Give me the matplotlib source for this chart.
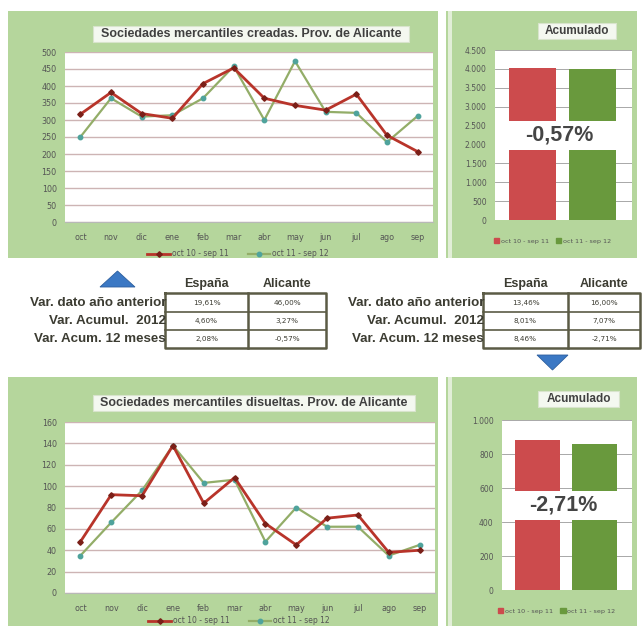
import numpy as np
import matplotlib
matplotlib.use("Agg")
import matplotlib.pyplot as plt
from matplotlib.patches import Rectangle, Polygon
from matplotlib.lines import Line2D
from matplotlib.ticker import FuncFormatter

W, H = 642, 626

months = ["oct", "nov", "dic", "ene", "feb", "mar", "abr", "may", "jun", "jul", "ago", "sep"]
serie_a = "oct 10 - sep 11"
serie_b = "oct 11 - sep 12"

creadas_a = [317, 381, 319, 305, 407, 453, 364, 343, 329, 376, 255, 207]
creadas_b = [250, 364, 310, 314, 364, 458, 300, 473, 324, 321, 235, 312]
disueltas_a = [48, 92, 91, 138, 84, 108, 65, 45, 70, 73, 38, 40]
disueltas_b = [35, 66, 96, 138, 103, 106, 48, 80, 62, 62, 35, 45]

acum_creadas = [4020, 3997]
acum_disueltas = [880, 856]
pct_creadas = "-0,57%"
pct_disueltas = "-2,71%"

row_labels = ["Var. dato año anterior", "Var. Acumul.  2012", "Var. Acum. 12 meses"]
col_labels = ["España", "Alicante"]
tabla_creadas = [["19,61%", "46,00%"], ["4,60%", "3,27%"], ["2,08%", "-0,57%"]]
tabla_disueltas = [["13,46%", "16,00%"], ["8,01%", "7,07%"], ["8,46%", "-2,71%"]]

PANEL = "#b5d69c"
RED_LINE = "#b8342a"
GREEN_LINE = "#93ad68"
GREEN_MK = "#4fa39c"
RED_BAR = "#cc4b4d"
GREEN_BAR = "#69993d"
TXT = "#3c3c32"

fig = plt.figure(figsize=(W / 100, H / 100), dpi=100)
fig.patch.set_facecolor("white")

bg = fig.add_axes([0, 0, 1, 1], zorder=0)
bg.set_xlim(0, W)
bg.set_ylim(H, 0)
bg.axis("off")


def px_axes(l, t, r, b):
    return fig.add_axes([l / W, 1 - b / H, (r - l) / W, (b - t) / H], zorder=2)


# panels
for l, t, r, b in [(8, 11, 438, 258), (446, 11, 637, 258), (8, 377, 438, 626), (446, 377, 637, 626)]:
    bg.add_patch(Rectangle((l, t), r - l, b - t, facecolor=PANEL, edgecolor="none"))
for t, b in [(11, 258), (377, 626)]:
    bg.add_patch(Rectangle((448, t), 4, b - t, facecolor="#e2eed8", edgecolor="none"))


def title_box(x0, x1, yc, text, fs):
    bg.add_patch(Rectangle((x0, yc - 8), x1 - x0, 16, facecolor="#f4f8f0",
                           edgecolor="#d8e4cc", lw=0.8))
    bg.text((x0 + x1) / 2, yc, text, ha="center", va="center", fontsize=fs,
            fontweight="bold", color="#404040", family="Liberation Sans")


title_box(93, 409, 34, "Sociedades mercantiles creadas. Prov. de Alicante", 9.0)
title_box(93, 415, 403, "Sociedades mercantiles disueltas. Prov. de Alicante", 9.0)
title_box(538, 616, 31, "Acumulado", 8.5)
title_box(538, 619, 399, "Acumulado", 8.5)


def miles(v, pos):
    return f"{int(v):,}".replace(",", ".")


def line_chart(ax, a, b, ymax, step, leg_y):
    x = np.arange(len(months))
    ax.plot(x, b, color=GREEN_LINE, lw=1.6, marker="o", ms=3.2,
            mfc=GREEN_MK, mec=GREEN_MK, zorder=3)
    ax.plot(x, a, color=RED_LINE, lw=2.0, marker="D", ms=2.8,
            mfc="#7a1f18", mec="#7a1f18", zorder=4)
    ax.set_xlim(-0.5, len(months) - 0.5)
    ax.set_ylim(0, ymax)
    ax.set_yticks(np.arange(0, ymax + 1, step))
    ax.set_xticks(x)
    ax.set_xticklabels(months)
    ax.yaxis.grid(True, color="#cdb4b4", lw=1.0)
    ax.set_axisbelow(True)
    for s in ["top", "right", "left"]:
        ax.spines[s].set_visible(False)
    ax.spines["bottom"].set_color("#b8b8b8")
    ax.tick_params(axis="both", labelsize=5.8, colors="#555555", length=0, pad=6)
    ax.tick_params(axis="x", pad=8)
    handles = [Line2D([], [], color=RED_LINE, lw=2.0, marker="D", ms=2.8,
                      mfc="#7a1f18", mec="#7a1f18"),
               Line2D([], [], color=GREEN_LINE, lw=1.6, marker="o", ms=3.2,
                      mfc=GREEN_MK, mec=GREEN_MK)]
    ax.legend(handles, [serie_a, serie_b], loc="upper center", bbox_to_anchor=(0.47, leg_y),
              ncol=2, frameon=False, fontsize=5.5, handlelength=3.0, columnspacing=2.5,
              handletextpad=0.2, labelcolor="#555555", borderpad=0.2)


def bar_chart(ax, vals, ymax, step, pct):
    ax.bar([0, 1], vals, width=0.78, color=[RED_BAR, GREEN_BAR], zorder=2)
    ax.set_xlim(-0.62, 1.65)
    ax.set_ylim(0, ymax)
    ax.set_yticks(np.arange(0, ymax + 1, step))
    ax.yaxis.set_major_formatter(FuncFormatter(miles))
    ax.set_xticks([])
    ax.yaxis.grid(True, color="#9a9a9a", lw=0.6)
    ax.set_axisbelow(True)
    for s in ax.spines.values():
        s.set_visible(False)
    ax.tick_params(axis="y", labelsize=5.5, colors="#555555", length=0, pad=6)
    ax.add_patch(Rectangle((0, 0.41), 1, 0.175, transform=ax.transAxes,
                           facecolor="white", edgecolor="none", zorder=5))
    ax.text(0.47, 0.5, pct, transform=ax.transAxes, ha="center", va="center",
            fontsize=15.5, fontweight="bold", color="#454545", zorder=6,
            family="Liberation Sans")
    handles = [Rectangle((0, 0), 1, 1, color=RED_BAR), Rectangle((0, 0), 1, 1, color=GREEN_BAR)]
    ax.legend(handles, [serie_a, serie_b], loc="upper center", bbox_to_anchor=(0.42, -0.07),
              ncol=2, frameon=False, fontsize=4.6, handlelength=0.9, handleheight=0.9,
              columnspacing=1.0, handletextpad=0.3, labelcolor="#555555")


ax1 = px_axes(65, 52, 433, 222)
line_chart(ax1, creadas_a, creadas_b, 500, 50, -0.13)

ax2 = px_axes(495, 50, 632, 220)
bar_chart(ax2, acum_creadas, 4500, 500, pct_creadas)

ax3 = px_axes(65, 422, 435, 593)
line_chart(ax3, disueltas_a, disueltas_b, 160, 20, -0.105)

ax4 = px_axes(502, 420, 632, 590)
bar_chart(ax4, acum_disueltas, 1000, 200, pct_disueltas)


# middle tables
def table(x0, xdiv, x1, data):
    rows = [293, 312, 330, 348]
    bg.plot([x0, x1, x1, x0, x0], [rows[0], rows[0], rows[-1], rows[-1], rows[0]],
            color="#5b5b45", lw=1.8)
    for y in rows[1:-1]:
        bg.plot([x0, x1], [y, y], color="#5b5b45", lw=1.2)
    bg.plot([xdiv, xdiv], [rows[0], rows[-1]], color="#5b5b45", lw=1.8)
    bg.text((x0 + xdiv) / 2, 284, col_labels[0], ha="center", va="center", fontsize=9,
            fontweight="bold", color=TXT, family="Liberation Sans")
    bg.text((xdiv + x1) / 2, 284, col_labels[1], ha="center", va="center", fontsize=9,
            fontweight="bold", color=TXT, family="Liberation Sans")
    for i, lab in enumerate(row_labels):
        yc = (rows[i] + rows[i + 1]) / 2
        bg.text(x0 + 1, yc, lab, ha="right", va="center", fontsize=9.6,
                fontweight="bold", color=TXT, family="Liberation Sans")
        bg.text((x0 + xdiv) / 2, yc, data[i][0], ha="center", va="center",
                fontsize=5.2, color=TXT)
        bg.text((xdiv + x1) / 2, yc, data[i][1], ha="center", va="center",
                fontsize=5.2, color=TXT)


table(165, 248, 326, tabla_creadas)
table(483, 568, 640, tabla_disueltas)

bg.add_patch(Polygon([[100, 287], [117.5, 271], [135, 287]], closed=True,
                     facecolor="#3b78c4", edgecolor="#2d5f9e", lw=0.6))
bg.add_patch(Polygon([[537, 355], [568, 355], [552.5, 370]], closed=True,
                     facecolor="#3b78c4", edgecolor="#2d5f9e", lw=0.6))

fig.savefig("out.png", dpi=100, facecolor="white")
